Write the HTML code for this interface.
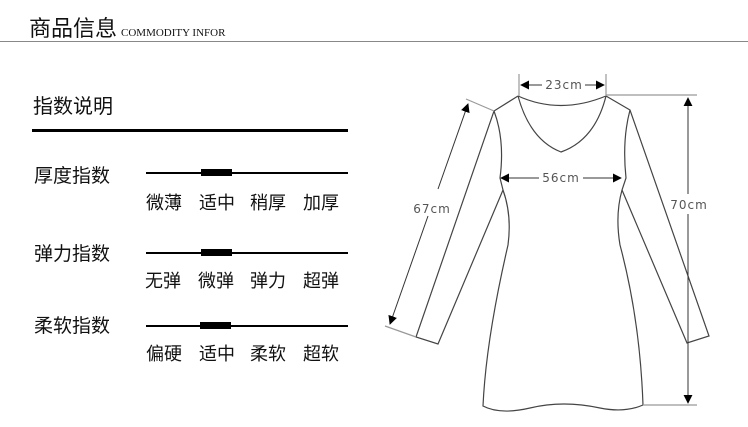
<!DOCTYPE html>
<html><head><meta charset="utf-8"><style>
body{margin:0;width:748px;height:427px;background:#fff;overflow:hidden;position:relative;font-family:"Liberation Sans","Noto Sans CJK SC",sans-serif;color:#111}
.t{position:absolute;white-space:nowrap;line-height:1}
.l{position:absolute;background:#000}
</style></head><body>
<div class="t" style="left:29px;top:16px;font-size:22px;font-family:'WenQuanYi Zen Hei','Noto Sans CJK SC',sans-serif">商品信息<span style="font-family:'Liberation Serif',serif;font-size:11px;margin-left:4px">COMMODITY INFOR</span></div>
<div class="l" style="left:0;top:41px;width:748px;height:1px;background:#888"></div>
<div class="t" style="left:33px;top:97px;font-size:20px">指数说明</div>
<div class="l" style="left:32px;top:129px;width:316px;height:3px"></div>

<div class="t" style="left:34px;top:167px;font-size:19px">厚度指数</div>
<div class="l" style="left:146px;top:172px;width:202px;height:2px"></div>
<div class="l" style="left:201px;top:169px;width:31px;height:7px"></div>
<div class="t" style="left:146px;top:194px;font-size:18px">微薄</div>
<div class="t" style="left:199px;top:194px;font-size:18px">适中</div>
<div class="t" style="left:250px;top:194px;font-size:18px">稍厚</div>
<div class="t" style="left:303px;top:194px;font-size:18px">加厚</div>

<div class="t" style="left:34px;top:245px;font-size:19px">弹力指数</div>
<div class="l" style="left:146px;top:252px;width:202px;height:2px"></div>
<div class="l" style="left:201px;top:249px;width:31px;height:7px"></div>
<div class="t" style="left:145px;top:272px;font-size:18px">无弹</div>
<div class="t" style="left:198px;top:272px;font-size:18px">微弹</div>
<div class="t" style="left:250px;top:272px;font-size:18px">弹力</div>
<div class="t" style="left:303px;top:272px;font-size:18px">超弹</div>

<div class="t" style="left:34px;top:317px;font-size:19px">柔软指数</div>
<div class="l" style="left:146px;top:325px;width:202px;height:2px"></div>
<div class="l" style="left:200px;top:322px;width:31px;height:7px"></div>
<div class="t" style="left:146px;top:345px;font-size:18px">偏硬</div>
<div class="t" style="left:199px;top:345px;font-size:18px">适中</div>
<div class="t" style="left:250px;top:345px;font-size:18px">柔软</div>
<div class="t" style="left:303px;top:345px;font-size:18px">超软</div>

<svg style="position:absolute;left:0;top:0" width="748" height="427" viewBox="0 0 748 427">
<defs><marker id="a" viewBox="0 0 10 10" refX="9" refY="5" markerWidth="9" markerHeight="9" markerUnits="userSpaceOnUse" orient="auto-start-reverse"><path d="M0,0L10,5L0,10z" fill="#000"/></marker></defs>
<g fill="none" stroke="#444" stroke-width="1.2">
<path d="M518,96 L494,111 L416,337 L438,344 L503,190"/>
<path d="M606,96 L630,110 L709,336 L687,343 L622,190"/>
<path d="M518,96 Q560,115 606,96"/>
<path d="M518,96 Q530,140 561,152 Q595,140 606,96"/>
<path d="M494,111 Q505,140 500,178 L503,190 Q512,215 508,245 Q486,340 483,406 Q500,415 530,408 Q563,400 600,408 Q625,413 643,405 Q640,320 620,245 Q615,215 622,190 L626,178 Q622,140 630,110"/>
<path d="M606,95 L697,95 M643,405 L697,405 M519,74 L519,96 M606,74 L606,96 M466,99 L494,111 M385,326 L416,337" stroke="#999"/>
</g>
<g stroke="#333" stroke-width="1" fill="none">
<path d="M688,98 V194" marker-start="url(#a)"/><path d="M688,214 V403" marker-end="url(#a)"/>
<path d="M468,104 L438,189" marker-start="url(#a)"/><path d="M428,216 L390,324" marker-end="url(#a)"/>
<path d="M521,85 H542" marker-start="url(#a)"/><path d="M585,85 H604" marker-end="url(#a)"/>
<path d="M501,178 H539" marker-start="url(#a)"/><path d="M583,178 H621" marker-end="url(#a)"/>
</g>
<g font-family="'DejaVu Sans','Liberation Sans',sans-serif" font-size="12" fill="#555" text-anchor="middle" letter-spacing="1">
<text x="564" y="89">23cm</text>
<text x="561" y="182">56cm</text>
<text x="689" y="209">70cm</text>
<text x="432" y="213">67cm</text>
</g>
</svg>
</body></html>
